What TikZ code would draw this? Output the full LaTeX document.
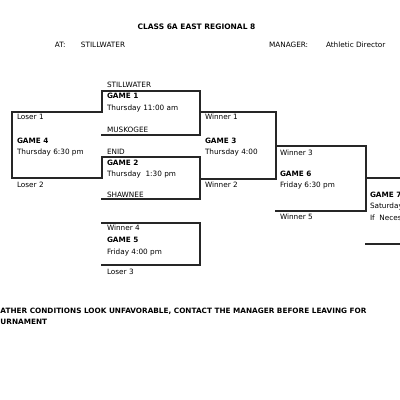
\documentclass[tikz,border=0pt]{standalone}
\usepackage{fontspec}
\setmainfont{DejaVu Sans}
\begin{document}
\begin{tikzpicture}[x=1pt,y=-1pt,
  lbl/.style={anchor=base west,inner sep=0pt,outer sep=0pt,font=\fontsize{7.3}{9}\selectfont},
  bld/.style={lbl,font=\fontsize{7.3}{9}\selectfont\bfseries},
  ttl/.style={anchor=base,inner sep=0pt,font=\fontsize{7.5}{9}\selectfont\bfseries},
  bline/.style={line width=1.2pt,draw=black!85,line cap=rect}]
\useasboundingbox (0,0) rectangle (400,400);
\clip (0,0) rectangle (400,400);
\fill[white] (0,0) rectangle (400,400);
% header
\node[ttl] (title) at (196.5,29.7) {CLASS 6A EAST REGIONAL 8};
\node[lbl] (at) at (55,47.2) {AT:};
\node[lbl] (site) at (81,47.2) {STILLWATER};
\node[lbl] (mgr) at (269,47.2) {MANAGER:};
\node[lbl] (ad) at (326,47.2) {Athletic Director};
% bracket lines
\draw[bline] (102,112) -- (102,91) -- (200,91) -- (200,135) -- (102,135);
\draw[bline] (102,178) -- (102,157) -- (200,157) -- (200,199) -- (102,199);
\draw[bline] (102,112) -- (12,112) -- (12,178) -- (102,178);
\draw[bline] (200,112) -- (276,112) -- (276,179) -- (200,179);
\draw[bline] (276,146) -- (366,146) -- (366,211) -- (276,211);
\draw[bline] (366,178) -- (402,178);
\draw[bline] (366,244) -- (402,244);
\draw[bline] (102,223) -- (200,223) -- (200,265) -- (102,265);
% game 1
\node[lbl] (t1) at (107,87.7) {STILLWATER};
\node[bld] (g1) at (107,98.7) {GAME 1};
\node[lbl] (d1) at (107,110.4) {Thursday 11:00 am};
\node[lbl] (t2) at (107,132) {MUSKOGEE};
% game 2
\node[lbl] (t3) at (107,154.4) {ENID};
\node[bld] (g2) at (107,165.4) {GAME 2};
\node[lbl] (d2) at (107,176.7) {Thursday\ \ 1:30 pm};
\node[lbl] (t4) at (107,197.7) {SHAWNEE};
% game 4
\node[lbl] (l1) at (17,119.7) {Loser 1};
\node[bld] (g4) at (17,143.4) {GAME 4};
\node[lbl] (d4) at (17,154.4) {Thursday 6:30 pm};
\node[lbl] (l2) at (17,187.7) {Loser 2};
% game 3
\node[lbl] (w1) at (205,119.7) {Winner 1};
\node[bld] (g3) at (205,143.4) {GAME 3};
\node[lbl] (d3) at (205,154.7) {Thursday 4:00};
\node[lbl] (w2) at (205,187.7) {Winner 2};
% game 6
\node[lbl] (w3) at (280,155) {Winner 3};
\node[bld] (g6) at (280,176) {GAME 6};
\node[lbl] (d6) at (280,187.7) {Friday 6:30 pm};
\node[lbl] (w5) at (280,219.4) {Winner 5};
% game 7
\node[bld] (g7) at (370,197.7) {GAME 7};
\node[lbl] (d7) at (370,208.7) {Saturday};
\node[lbl] (n7) at (370,220.4) {If\ \ Necessary};
% game 5
\node[lbl] (w4) at (107,230) {Winner 4};
\node[bld] (g5) at (107,242) {GAME 5};
\node[lbl] (d5) at (107,254.4) {Friday 4:00 pm};
\node[lbl] (l3) at (107,274.4) {Loser 3};
% footer
\node[bld] (f1) at (0.5,313.7) {ATHER CONDITIONS LOOK UNFAVORABLE, CONTACT THE MANAGER BEFORE LEAVING FOR};
\node[bld] (f2) at (0.5,324.7) {URNAMENT};
\end{tikzpicture}
\end{document}
